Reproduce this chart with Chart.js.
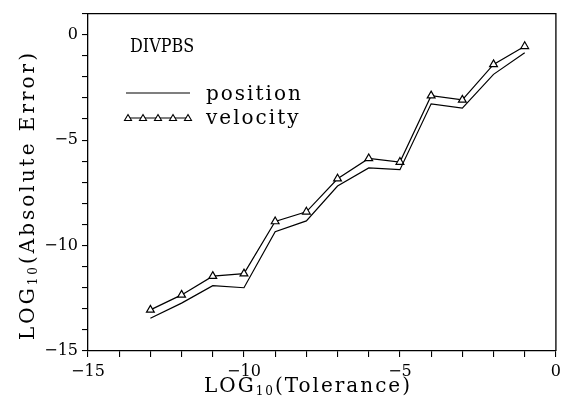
<!DOCTYPE html>
<html>
<head>
<meta charset="utf-8">
<script src="https://cdn.jsdelivr.net/npm/chart.js@4"></script>
<style>
  html, body { margin: 0; padding: 0; background: #fff; }
  #wrap { width: 566px; height: 403px; }
</style>
</head>
<body>
<div id="wrap"><canvas id="errChart"></canvas></div>
<script>
// log10 of tolerance (x) and log10 of absolute error for both series
const tolerance = [-13, -12, -11, -10, -9, -8, -7, -6, -5, -4, -3, -2, -1];
const velocityErr = [-13.05, -12.34, -11.45, -11.33, -8.86, -8.40, -6.83, -5.87, -6.04, -2.89, -3.09, -1.41, -0.55];
const positionErr = [-13.45, -12.73, -11.90, -12.00, -9.34, -8.83, -7.18, -6.32, -6.40, -3.28, -3.48, -1.88, -0.86];
const xTickLabels = [-15, -10, -5, 0];
const yTickLabels = [0, -5, -10, -15];
const panelName = 'DIVPBS';

const serif = '"DejaVu Serif", "Liberation Serif", serif';
const ink = '#000';

Chart.defaults.font.family = serif;
Chart.defaults.color = ink;

function toPoints(ys) {
    return tolerance.map((x, i) => ({ x: x, y: ys[i] }));
}

// draw "LOG" + subscript "10" + rest, centred on (cx, cy)
function drawLogTitle(ctx, rest, cx, cy, rotate, spacing) {
    const big = '20px ' + serif;
    const small = '12px ' + serif;
    ctx.save();
    ctx.letterSpacing = spacing;
    ctx.font = big;
    const w1 = ctx.measureText('LOG').width;
    const w3 = ctx.measureText(rest).width;
    ctx.font = small;
    const w2 = ctx.measureText('10').width;
    const total = w1 + w2 + w3;
    ctx.translate(cx, cy);
    if (rotate) ctx.rotate(-Math.PI / 2);
    ctx.textBaseline = 'alphabetic';
    ctx.textAlign = 'left';
    let x = -total / 2;
    ctx.font = big;
    ctx.fillText('LOG', x, 7);
    x += w1;
    ctx.font = small;
    ctx.fillText('10', x, 10);
    x += w2;
    ctx.font = big;
    ctx.fillText(rest, x, 7);
    ctx.restore();
}

const decorations = {
    id: 'decorations',
    afterDraw(chart) {
        const ctx = chart.ctx;
        const a = chart.chartArea;
        ctx.save();
        // close the frame (top and right)
        ctx.strokeStyle = ink;
        ctx.lineWidth = 1.3;
        ctx.beginPath();
        ctx.moveTo(a.left, a.top);
        ctx.lineTo(a.right, a.top);
        ctx.lineTo(a.right, a.bottom);
        ctx.stroke();

        // panel name
        ctx.fillStyle = ink;
        ctx.textBaseline = 'alphabetic';
        ctx.save();
        ctx.translate(130, 52);
        ctx.scale(1, 1.2);
        ctx.font = '16px ' + serif;
        ctx.fillText(panelName, 0, 0);
        ctx.restore();

        // legend
        ctx.font = '20px ' + serif;
        ctx.letterSpacing = '2px';
        ctx.lineWidth = 1.1;
        ctx.beginPath();
        ctx.moveTo(126, 93);
        ctx.lineTo(190, 93);
        ctx.stroke();
        ctx.fillText(chart.data.datasets[0].label, 206, 100);

        ctx.beginPath();
        ctx.moveTo(126, 118);
        ctx.lineTo(190, 118);
        ctx.stroke();
        for (let i = 0; i < 5; i++) {
            const px = 128 + i * 15;
            ctx.beginPath();
            ctx.moveTo(px, 114.5);
            ctx.lineTo(px + 3.5, 120.5);
            ctx.lineTo(px - 3.5, 120.5);
            ctx.closePath();
            ctx.fillStyle = '#fff';
            ctx.fill();
            ctx.stroke();
        }
        ctx.fillStyle = ink;
        ctx.fillText(chart.data.datasets[1].label, 206, 124);
        ctx.restore();

        // axis titles
        ctx.fillStyle = ink;
        drawLogTitle(ctx, '(Tolerance)', 308, 385, false, '2px');
        drawLogTitle(ctx, '(Absolute Error)', 27, 195, true, '3px');
    }
};

new Chart(document.getElementById('errChart'), {
    type: 'line',
    data: {
        datasets: [
            {
                label: 'position',
                data: toPoints(positionErr),
                borderColor: ink,
                borderWidth: 1.2,
                pointRadius: 0,
                fill: false,
                tension: 0
            },
            {
                label: 'velocity',
                data: toPoints(velocityErr),
                borderColor: ink,
                borderWidth: 1.2,
                pointStyle: 'triangle',
                pointRadius: 4.5,
                pointBorderWidth: 1.2,
                pointBackgroundColor: '#fff',
                pointBorderColor: ink,
                fill: false,
                tension: 0
            }
        ]
    },
    options: {
        responsive: true,
        maintainAspectRatio: false,
        animation: false,
        events: [],
        layout: { padding: { top: 9, right: 8, left: 0, bottom: 0 } },
        plugins: {
            legend: { display: false },
            tooltip: { enabled: false }
        },
        scales: {
            x: {
                type: 'linear',
                min: -15,
                max: 0,
                afterFit: s => { s.height = 52; },
                border: { color: ink, width: 1.3 },
                grid: { drawOnChartArea: false, color: ink, tickLength: 6, lineWidth: 1.1 },
                ticks: {
                    stepSize: 1,
                    includeBounds: false,
                    maxRotation: 0,
                    autoSkip: false,
                    padding: 5,
                    font: { size: 16 },
                    callback: v => xTickLabels.includes(v) ? String(v).replace('-', '\u2212') : ''
                }
            },
            y: {
                type: 'linear',
                min: -15,
                max: 1,
                afterFit: s => { s.width = 88; },
                border: { color: ink, width: 1.3 },
                grid: { drawOnChartArea: false, color: ink, tickLength: 6, lineWidth: 1.1 },
                ticks: {
                    stepSize: 1,
                    includeBounds: false,
                    autoSkip: false,
                    padding: 4,
                    font: { size: 16 },
                    callback: v => yTickLabels.includes(v) ? String(v).replace('-', '\u2212') : ''
                }
            }
        }
    },
    plugins: [decorations]
});
</script>
</body>
</html>
